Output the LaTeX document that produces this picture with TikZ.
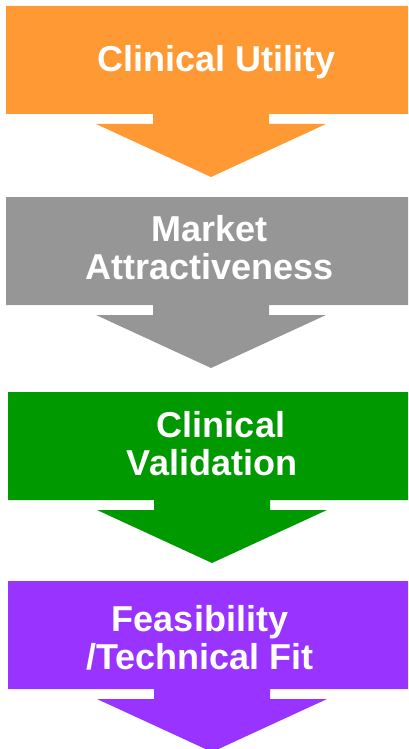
\documentclass[tikz,border=0pt]{standalone}
\usepackage{fontspec}
\setmainfont{Liberation Sans}
\definecolor{stageorange}{RGB}{255,153,51}
\definecolor{stagegray}{RGB}{150,150,150}
\definecolor{stagegreen}{RGB}{0,153,0}
\definecolor{stagepurple}{RGB}{153,51,255}
\begin{document}
\begin{tikzpicture}[x=1pt,y=-1pt,
  stagetext/.style={anchor=north,inner sep=0pt,align=center,text=white,
    font=\fontsize{36}{38}\selectfont\bfseries},
  % one stage: a banner with a downward arrow under it
  pics/stage/.style n args={4}{code={
    % #1 left edge, #2 top, #3 arrow centre, #4 colour
    \fill[#4] (#1,#2) -- (416,#2) -- (416,#2+108) -- (#3+58,#2+108)
      -- (#3+58,#2+118) -- (#3+115,#2+118) -- (#3,#2+171)
      -- (#3-115,#2+118) -- (#3-58,#2+118) -- (#3-58,#2+108)
      -- (#1,#2+108) -- cycle;
  }}]
\useasboundingbox (0,0) rectangle (408,749);
\clip (0,0) rectangle (408,749);

\pic {stage={6}{6}{211}{stageorange}};
\pic {stage={6}{197}{211}{stagegray}};
\pic {stage={8}{392}{212}{stagegreen}};
\pic {stage={8}{581}{212}{stagepurple}};

\node[stagetext] (utility) at (216.5,45) {Clinical Utility};
\node[stagetext] (market) at (209.5,215) {Market\\Attractiveness};
\node[stagetext] (validation) at (212,411) {\hspace*{18pt}Clinical\\Validation};
\node[stagetext] (feasibility) at (200,605) {Feasibility\\/Technical Fit};
\end{tikzpicture}
\end{document}
